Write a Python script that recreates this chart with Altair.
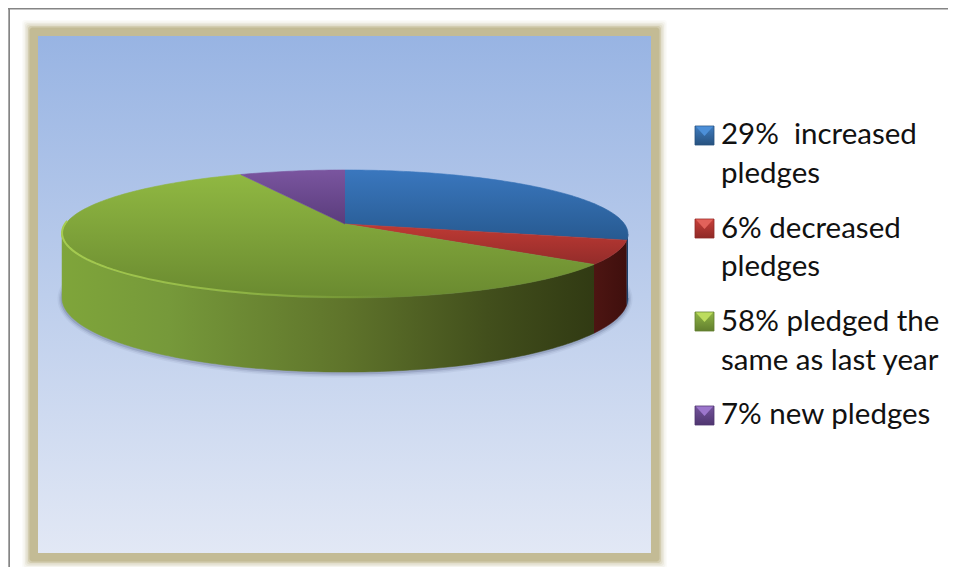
import math
import altair as alt
import pandas as pd

# --- chart values -------------------------------------------------------
shares = [29, 6, 58, 7]
slice_names = ["increased", "decreased", "same", "new"]
top_stops = [
    ["#3a77be", "#275a91"],
    ["#bf3a34", "#932c2a"],
    ["#90b842", "#6a8a30"],
    ["#7a559f", "#5a3c7c"],
]
wall_stops = [
    [(0, "#1d4a7d"), (1, "#123359")],
    [(0, "#4d1512"), (1, "#3f0f0d")],
    [(0, "#7fa53a"), (0.2, "#76993a"), (0.53, "#5f742b"), (0.8, "#424f1c"), (1, "#313a13")],
    [(0, "#5a3c7c"), (1, "#5a3c7c")],
]
legend_lines = [
    ["29%\u00a0 increased", "pledges"],
    ["6% decreased", "pledges"],
    ["58% pledged the", "same as last year"],
    ["7% new pledges"],
]
legend_line_y = [[144, 183], [238, 276], [331, 370], [424]]
legend_box_y = [126, 219, 312, 406]
legend_tri = ["#4c8fd8", "#e2625a", "#bcdc5e", "#9c76cc"]
legend_grad = [["#3f7cc0", "#27527f"], ["#c8403a", "#8f2a27"], ["#8fb545", "#627f2e"], ["#74539c", "#4f3670"]]

W, H = 940, 559
sx = alt.Scale(domain=[8, 8 + W], range=[0, W], nice=False, zero=False)
sy = alt.Scale(domain=[8 + H, 8], range=[H, 0], nice=False, zero=False)
X = lambda f: alt.X(f, type="quantitative", scale=sx, axis=None)
Y = lambda f: alt.Y(f, type="quantitative", scale=sy, axis=None)
X2 = lambda f: alt.X2(f)
Y2 = lambda f: alt.Y2(f)


def grad_v(c):
    return alt.LinearGradient(gradient="linear", x1=0, y1=0, x2=0, y2=1,
                              stops=[alt.GradientStop(offset=0, color=c[0]), alt.GradientStop(offset=1, color=c[1])])


def grad_h(st):
    return alt.LinearGradient(gradient="linear", x1=0, y1=0, x2=1, y2=0,
                              stops=[alt.GradientStop(offset=o, color=c) for o, c in st])


# perspective view of the pie disc
CX, APEX, LIFT, PERSP, XR, DEPTH = 345, 224, 27.44, -0.15625, 279.5, 62.5


def rim(theta):
    t = math.radians(theta)
    u, v = math.sin(t), -math.cos(t)
    den = 1 + PERSP * v
    x = CX + XR * u / den
    y = (LIFT * v + APEX) / den
    return x, y, y + DEPTH / den


layers = []
# frame
layers.append(alt.Chart(pd.DataFrame({"x": [8], "x2": [8 + W], "y": [6], "y2": [9.6]})).mark_rect(color="#858585").encode(X("x"), X2("x2"), Y("y"), Y2("y2")))
layers.append(alt.Chart(pd.DataFrame({"x": [8.3], "x2": [10], "y": [8], "y2": [8 + H]})).mark_rect(color="#858585").encode(X("x"), X2("x2"), Y("y"), Y2("y2")))

# panel glow + panel
glow = [(16, .06), (14.5, .10), (13, .16), (11.5, .25), (10, .5), (8.5, 1)]
for e, op in glow:
    d = pd.DataFrame({"x": [38 - e], "x2": [651 + e], "y": [36 - e], "y2": [553 + e]})
    layers.append(alt.Chart(d).mark_rect(color="#c3bb95", opacity=op, cornerRadius=3).encode(X("x"), X2("x2"), Y("y"), Y2("y2")))
layers.append(alt.Chart(pd.DataFrame({"x": [38], "x2": [651], "y": [36], "y2": [553]})).mark_rect(
    fill=grad_v(["#98b4e3", "#e2e8f5"])).encode(X("x"), X2("x2"), Y("y"), Y2("y2")))

# shadow beneath the pie
sh = pd.DataFrame([{"i": a, "x": rim(a)[0], "y": rim(a)[2] + 1} for a in range(0, 361, 2)])
for w, op in [(9, .07), (6, .12), (3, .22)]:
    layers.append(alt.Chart(sh).mark_line(stroke="#4e5a80", strokeWidth=w, opacity=op, fill="#4e5a80").encode(X("x"), Y("y"), order=alt.Order("i:Q")))

# walls, then the top of every slice
starts, acc = [], 0
for s in shares:
    starts.append(acc)
    acc += s
front_from, front_to = 99.0, 261.0
for s0, s, st in zip(starts, shares, wall_stops):
    a0 = max(s0 * 3.6, front_from)
    a1 = min((s0 + s) * 3.6, front_to)
    if a1 <= a0:
        continue
    n = max(2, int(a1 - a0) + 1)
    angles = [a0 + (a1 - a0) * i / n for i in range(n + 1)]
    rows = [{"i": i, "x": rim(a)[0], "y": rim(a)[1]} for i, a in enumerate(angles)]
    rows += [{"i": n + 1 + i, "x": rim(a)[0], "y": rim(a)[2]} for i, a in enumerate(reversed(angles))]
    layers.append(alt.Chart(pd.DataFrame(rows)).mark_line(fill=grad_h(st), strokeWidth=0.5, stroke=grad_h(st)).encode(X("x"), Y("y"), order=alt.Order("i:Q")))

for s0, s, st, name in zip(starts, shares, top_stops, slice_names):
    a0, a1 = s0 * 3.6, (s0 + s) * 3.6
    n = int(a1 - a0) + 1
    rows = [{"i": -1, "x": CX, "y": APEX, "slice": name}]
    for i in range(n + 1):
        x, y, _ = rim(a0 + (a1 - a0) * i / n)
        rows.append({"i": i, "x": x, "y": y, "slice": name})
    layers.append(alt.Chart(pd.DataFrame(rows)).mark_line(fill=grad_v(st), strokeWidth=0.6, stroke=grad_v(st)).encode(X("x"), Y("y"), order=alt.Order("i:Q")))

# light edge along the front of the green slice
edge = pd.DataFrame([{"i": -a, "x": rim(a)[0], "y": rim(a)[1] - 1} for a in range(272, 170, -2)])
layers.append(alt.Chart(edge).mark_line(strokeWidth=2, stroke=alt.LinearGradient(
    gradient="linear", x1=0, y1=0, x2=1, y2=0,
    stops=[alt.GradientStop(offset=0, color="#a6cc50"), alt.GradientStop(offset=.5, color="#92b746"), alt.GradientStop(offset=1, color="rgba(150,190,70,0)")]
)).encode(X("x"), Y("y"), order=alt.Order("i:Q")))

# legend
for by, g, tri in zip(legend_box_y, legend_grad, legend_tri):
    d = pd.DataFrame({"x": [695], "x2": [714], "y": [by], "y2": [by + 19], "tx": [704.5], "ty": [by + 5.2]})
    layers.append(alt.Chart(d).mark_rect(fill=grad_v(g), stroke=g[1], strokeWidth=0.8).encode(X("x"), X2("x2"), Y("y"), Y2("y2")))
    layers.append(alt.Chart(d).mark_point(shape="M -1 -0.55 L 1 -0.55 L 0 0.55 Z", filled=True, color=tri, size=300, opacity=1).encode(X("tx"), Y("ty")))

rows = [{"x": 721, "y": y, "t": t} for ls, ys in zip(legend_lines, legend_line_y) for t, y in zip(ls, ys)]
layers.append(alt.Chart(pd.DataFrame(rows)).mark_text(font="Lato", fontSize=29.5, align="left", baseline="alphabetic", color="#111111").encode(X("x"), Y("y"), text="t:N"))

chart = alt.layer(*layers).properties(width=W, height=H, padding=0, background="white",
                                       autosize=alt.AutoSizeParams(type="none")).configure_view(stroke=None)
chart.save("out.html", embed_options={"renderer": "svg", "actions": False})
